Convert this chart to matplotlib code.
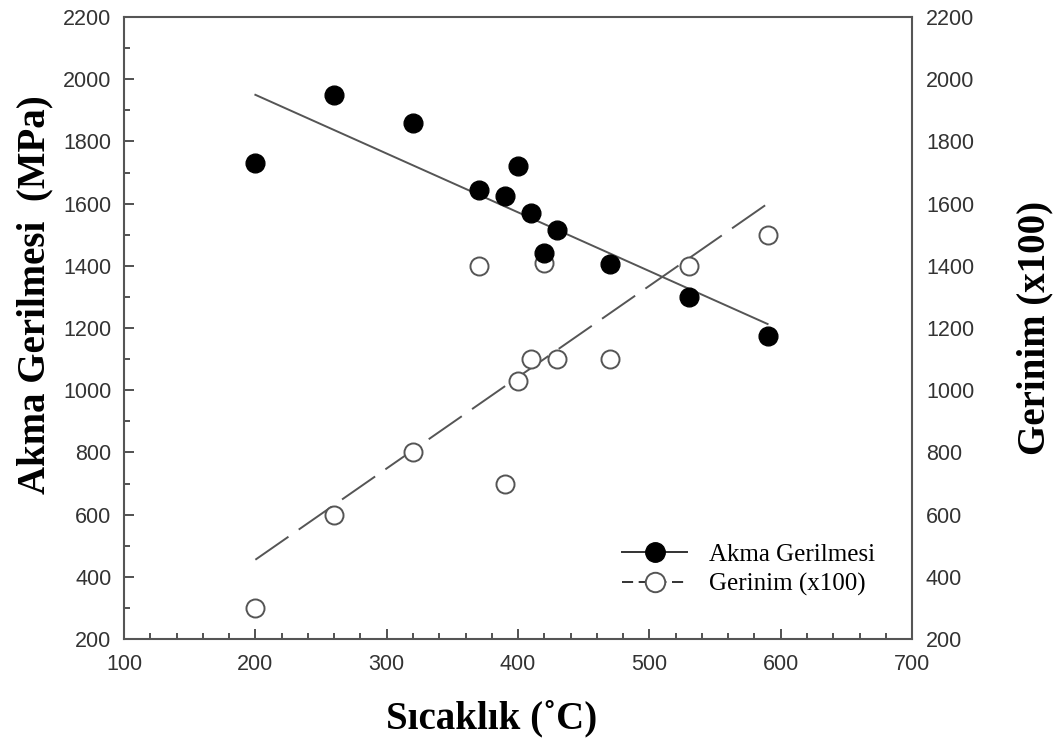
import matplotlib
matplotlib.use('Agg')
import matplotlib.pyplot as plt
from matplotlib.ticker import MultipleLocator

# temperature (C), yield stress (MPa), strain (x100)
temp_stress = [200, 260, 320, 370, 390, 400, 410, 420, 430, 470, 530, 590]
stress = [1730, 1950, 1860, 1645, 1625, 1720, 1570, 1440, 1515, 1405, 1300, 1175]

temp_strain = [200, 260, 320, 370, 390, 400, 410, 420, 430, 470, 530, 590]
strain = [300, 600, 800, 1400, 700, 1030, 1100, 1410, 1100, 1100, 1400, 1500]

# linear trend lines (end points)
fit_x = [200, 590]
stress_fit = [1950, 1213]
strain_fit = [455, 1600]

plt.rcParams['lines.scale_dashes'] = False
tick_font = 'Liberation Sans'
label_font = 'Liberation Serif'

fig = plt.figure(figsize=(10.62, 7.42), dpi=100)
ax = fig.add_axes([0.1168, 0.1388, 0.742, 0.8382])

ax.plot(fit_x, stress_fit, color='#555555', lw=1.4, zorder=2)
ax.plot(fit_x, strain_fit, color='#555555', lw=1.4, dashes=[29, 9], zorder=2)
ax.plot(temp_strain, strain, 'o', ms=13, mfc='white', mec='#555555', mew=1.4, zorder=3)
ax.plot(temp_stress, stress, 'o', ms=13.5, mfc='black', mec='black', zorder=4)

ax.set_xlim(100, 700)
ax.set_ylim(200, 2200)
ax.xaxis.set_major_locator(MultipleLocator(100))
ax.xaxis.set_minor_locator(MultipleLocator(20))
ax.yaxis.set_major_locator(MultipleLocator(200))
ax.yaxis.set_minor_locator(MultipleLocator(100))
ax.tick_params(which='both', direction='in', color='#333333', width=1.2,
               labelsize=15.5, labelcolor='#333333')
ax.tick_params(axis='x', pad=11)
ax.tick_params(axis='y', pad=9)
ax.tick_params(which='major', length=7)
ax.tick_params(which='minor', length=4)
for lab in ax.get_xticklabels() + ax.get_yticklabels():
    lab.set_family(tick_font)
for sp in ax.spines.values():
    sp.set_color('#555555')
    sp.set_linewidth(1.5)

# right-hand scale for strain, labels only
ax2 = ax.twinx()
ax2.set_ylim(200, 2200)
ax2.yaxis.set_major_locator(MultipleLocator(200))
ax2.tick_params(axis='y', length=0, labelsize=15.5, labelcolor='#333333', pad=10)
for lab in ax2.get_yticklabels():
    lab.set_family(tick_font)
for sp in ax2.spines.values():
    sp.set_visible(False)

ax.set_xlabel('Sıcaklık (˚C)', family=label_font, fontweight='bold', fontsize=28)
ax.xaxis.set_label_coords(0.466, -0.098)
ax.set_ylabel('Akma Gerilmesi  (MPa)', family=label_font, fontweight='bold', fontsize=28)
ax.yaxis.set_label_coords(-0.09, 0.553)
ax2.set_ylabel('Gerinim (x100)', family=label_font, fontweight='bold',
               fontsize=28, labelpad=30)

h1, = ax.plot([], [], '-o', color='#333333', lw=1.4, ms=14, mfc='black', mec='black')
h2, = ax.plot([], [], '-o', color='#333333', lw=1.4, dashes=[8, 4], ms=14,
              mfc='white', mec='#555555', mew=1.4)
leg = ax.legend([h1, h2], ['Akma Gerilmesi', 'Gerinim (x100)'],
                loc='upper left', bbox_to_anchor=(0.604, 0.19),
                frameon=False, handlelength=2.6, handletextpad=0.85,
                labelspacing=0.3, prop={'family': label_font, 'size': 18})

fig.savefig('out.png', dpi=100)
